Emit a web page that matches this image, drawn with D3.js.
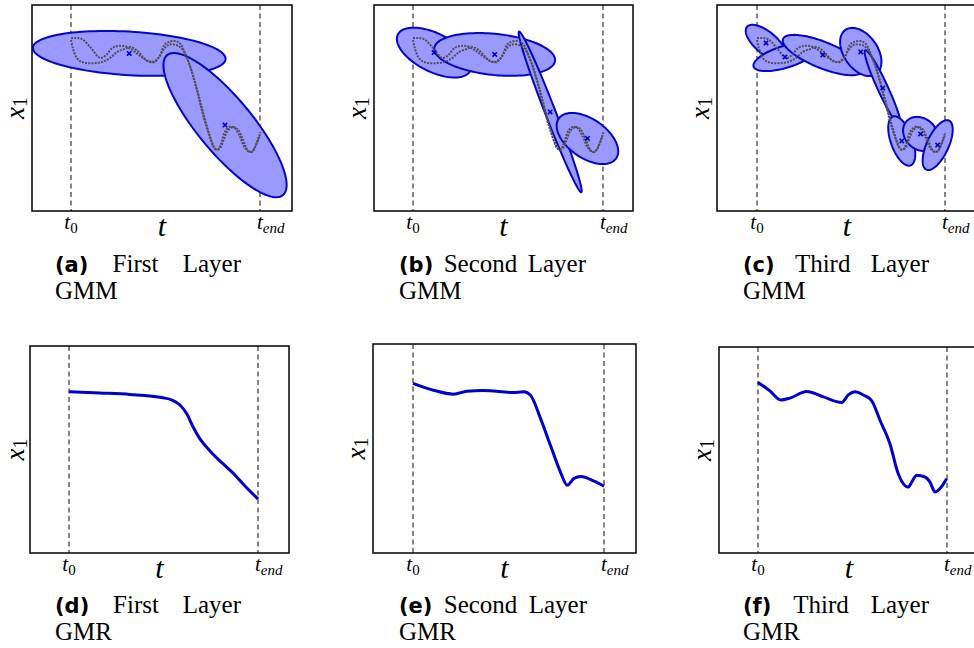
<!DOCTYPE html>
<html>
<head>
<meta charset="utf-8">
<script src="https://cdn.jsdelivr.net/npm/d3@7/dist/d3.min.js"></script>
<style>
  body { margin: 0; background: #fff; }
  svg { display: block; }
</style>
</head>
<body>
<svg id="chart" width="974" height="648"></svg>
<script>
// time is normalised: 0 = t0, 1 = tend ; x1 normalised to the plot height

// demonstrations [t, x1]
const demo1 = [[0,0.840],[0.027,0.840],[0.058,0.835],[0.106,0.791],[0.154,0.743],[0.186,0.757],
  [0.218,0.791],[0.249,0.801],[0.281,0.801],[0.324,0.782],[0.366,0.752],[0.409,0.728],[0.441,0.723],
  [0.472,0.757],[0.494,0.806],[0.515,0.820],[0.552,0.825],[0.579,0.811],[0.605,0.762],[0.640,0.675],
  [0.675,0.563],[0.707,0.451],[0.735,0.364],[0.757,0.306],[0.776,0.296],[0.795,0.330],[0.814,0.383],
  [0.839,0.408],[0.865,0.403],[0.892,0.364],[0.918,0.311],[0.945,0.286],[0.966,0.296],[0.982,0.330],
  [1.003,0.383]];
const demo2 = [[0,0.830],[0.011,0.786],[0.027,0.748],[0.048,0.728],[0.080,0.718],[0.122,0.718],
  [0.165,0.723],[0.207,0.743],[0.244,0.772],[0.281,0.786],[0.313,0.796],[0.345,0.782],[0.377,0.752],
  [0.403,0.728],[0.430,0.723],[0.462,0.743],[0.488,0.782],[0.515,0.806],[0.557,0.806],[0.588,0.786],
  [0.622,0.723],[0.660,0.607],[0.692,0.490],[0.722,0.393],[0.745,0.335],[0.766,0.301],[0.789,0.306],
  [0.808,0.345],[0.828,0.388],[0.855,0.408],[0.881,0.398],[0.908,0.350],[0.934,0.296],[0.955,0.286],
  [0.977,0.316],[0.998,0.364]];

// GMM components: [mean t, mean x1, sd t, sd x1, correlation]
const gmmFirst = [[0.308,0.765,0.510,0.109,-0.24],[0.815,0.417,0.326,0.350,-0.83]];
const gmmSecond = [[0.111,0.769,0.196,0.121,-0.55],[0.430,0.760,0.318,0.104,-0.26],
  [0.722,0.481,0.166,0.390,-0.984],[0.918,0.352,0.162,0.124,-0.5]];
const gmmThird = [[0.048,0.816,0.108,0.088,-0.67],[0.149,0.748,0.168,0.069,0.6],
  [0.350,0.757,0.213,0.098,-0.72],[0.552,0.772,0.110,0.117,-0.41],[0.669,0.597,0.096,0.183,-0.95],
  [0.770,0.340,0.072,0.120,-0.53],[0.870,0.374,0.093,0.083,-0.2],[0.961,0.320,0.080,0.121,0.62]];

// GMR regression outputs [t, x1]
const gmrFirst = [[0,0.779],[0.164,0.773],[0.323,0.766],[0.497,0.750],[0.545,0.739],[0.587,0.715],
  [0.624,0.671],[0.656,0.610],[0.693,0.551],[0.746,0.493],[0.810,0.435],[0.868,0.386],[0.931,0.324],[1,0.261]];
const gmrSecond = [[0,0.812],[0.107,0.779],[0.212,0.760],[0.282,0.774],[0.369,0.778],[0.527,0.768],
  [0.580,0.771],[0.615,0.755],[0.668,0.643],[0.720,0.514],[0.773,0.385],[0.808,0.324],[0.843,0.357],
  [0.878,0.366],[0.948,0.344],[1,0.320]];
const gmrThird = [[0,0.828],[0.063,0.787],[0.120,0.743],[0.169,0.752],[0.258,0.784],[0.346,0.758],
  [0.443,0.731],[0.478,0.768],[0.513,0.783],[0.557,0.767],[0.602,0.739],[0.646,0.643],[0.698,0.530],
  [0.742,0.385],[0.795,0.320],[0.813,0.344],[0.840,0.377],[0.884,0.369],[0.910,0.344],[0.937,0.296],
  [0.963,0.313],[0.998,0.361]];

const captionLetters = ['(a)','(b)','(c)','(d)','(e)','(f)'];
const captionTitles = ['First Layer','Second Layer','Third Layer','First Layer','Second Layer','Third Layer'];
const captionKinds = ['GMM','GMM','GMM','GMR','GMR','GMR'];
const tickTimes = [0, 1];

// layout of each sub-figure (pixels)
const panels = [
  {left:32,  top:5,   w:260, h:206, t0:71,  tend:260, gmm:gmmFirst,  cap:[55,241],  capY:272},
  {left:374, top:5,   w:259, h:206, t0:413, tend:603, gmm:gmmSecond, cap:[399,586], capY:272},
  {left:717, top:5,   w:260, h:206, t0:757, tend:945, gmm:gmmThird,  cap:[743,929], capY:272},
  {left:30,  top:346, w:259, h:207, t0:69,  tend:258, gmr:gmrFirst,  cap:[55,241],  capY:613},
  {left:373, top:344, w:263, h:209, t0:413, tend:604, gmr:gmrSecond, cap:[399,587], capY:613},
  {left:719, top:347, w:260, h:206, t0:758, tend:947, gmr:gmrThird,  cap:[743,929], capY:613}
];

const svg = d3.select('#chart');
const serif = '"Liberation Serif", "DejaVu Serif", serif';

panels.forEach((p, i) => {
  const x = d3.scaleLinear().domain([0, 1]).range([p.t0, p.tend]);
  const y = d3.scaleLinear().domain([0, 1]).range([p.top + p.h, p.top]);
  const g = svg.append('g');

  const clipId = 'clip' + i;
  g.append('clipPath').attr('id', clipId)
    .append('rect').attr('x', p.left).attr('y', p.top).attr('width', p.w).attr('height', p.h);
  const inner = g.append('g').attr('clip-path', `url(#${clipId})`);

  // t0 / tend markers
  inner.selectAll('line.vt').data(tickTimes).join('line')
    .attr('class', 'vt')
    .attr('x1', d => x(d)).attr('x2', d => x(d))
    .attr('y1', p.top).attr('y2', p.top + p.h)
    .attr('stroke', '#222').attr('stroke-width', 1.1)
    .attr('stroke-dasharray', '5,3.5');

  const line = d3.line().x(d => x(d[0])).y(d => y(d[1]));

  if (p.gmm) {
    const steps = d3.range(0, 2 * Math.PI, Math.PI / 60);
    const ellipse = c => steps.map(a => {
      const [mt, mx, st, sx, r] = c;
      return [mt + st * Math.cos(a), mx + sx * (r * Math.cos(a) + Math.sqrt(1 - r * r) * Math.sin(a))];
    });
    inner.selectAll('path.ell').data(p.gmm).join('path')
      .attr('class', 'ell')
      .attr('d', c => line.curve(d3.curveLinearClosed)(ellipse(c)))
      .attr('fill', '#9999ff')
      .attr('stroke', '#0505c8').attr('stroke-width', 2);

    const demoLine = d3.line().x(d => x(d[0])).y(d => y(d[1])).curve(d3.curveCatmullRom);
    inner.selectAll('path.demo').data([demo1, demo2]).join('path')
      .attr('class', 'demo')
      .attr('d', demoLine)
      .attr('fill', 'none')
      .attr('stroke', '#505050').attr('stroke-width', 2)
      .attr('stroke-dasharray', '2,1.2');

    // means
    const s = 2.2;
    inner.selectAll('path.mean').data(p.gmm).join('path')
      .attr('class', 'mean')
      .attr('d', c => {
        const cx = x(c[0]), cy = y(c[1]);
        return `M${cx - s},${cy - s}L${cx + s},${cy + s}M${cx - s},${cy + s}L${cx + s},${cy - s}`;
      })
      .attr('stroke', '#0000cc').attr('stroke-width', 1.6);
  }

  if (p.gmr) {
    inner.append('path')
      .datum(p.gmr)
      .attr('d', line.curve(d3.curveMonotoneX))
      .attr('fill', 'none')
      .attr('stroke', '#0000cc').attr('stroke-width', 3)
      .attr('stroke-linejoin', 'round');
  }

  // frame
  g.append('rect')
    .attr('x', p.left).attr('y', p.top).attr('width', p.w).attr('height', p.h)
    .attr('fill', 'none').attr('stroke', '#000').attr('stroke-width', 1.5);

  // tick labels t0 / tend
  const tl = g.selectAll('text.tick').data(tickTimes).join('text')
    .attr('class', 'tick')
    .attr('x', d => d === 0 ? x(d) : x(d) - 3).attr('y', p.top + p.h + 18)
    .attr('text-anchor', d => d === 0 ? 'middle' : 'start')
    .attr('font-family', serif).attr('font-size', 21).attr('font-style', 'italic');
  tl.append('tspan').text('t');
  tl.append('tspan')
    .attr('font-size', 15).attr('dy', 4)
    .attr('font-style', d => d === 0 ? 'normal' : 'italic')
    .text(d => d === 0 ? '0' : 'end');

  // axis labels
  g.append('text')
    .attr('x', p.left + p.w / 2).attr('y', p.top + p.h + 25)
    .attr('text-anchor', 'middle')
    .attr('font-family', serif).attr('font-size', 30).attr('font-style', 'italic')
    .text('t');

  const yl = g.append('text')
    .attr('transform', `translate(${Math.max(p.left - 8, 24)},${p.top + p.h / 2}) rotate(-90)`)
    .attr('text-anchor', 'middle')
    .attr('font-family', serif).attr('font-size', 27).attr('font-style', 'italic');
  yl.append('tspan').text('x');
  yl.append('tspan').attr('font-size', 20).attr('font-style', 'normal').attr('dy', 3).text('1');

  // caption, first line justified between cap[0] and cap[1]
  const words = [captionLetters[i]].concat(captionTitles[i].split(' '));
  const wt = words.map((w, k) => g.append('text')
    .attr('y', p.capY)
    .attr('font-family', k === 0 ? '"DejaVu Sans", sans-serif' : serif)
    .attr('font-weight', k === 0 ? 'bold' : 'normal')
    .attr('font-size', k === 0 ? 21 : 25)
    .text(w));
  const widths = wt.map(t => t.node().getComputedTextLength());
  const gap = (p.cap[1] - p.cap[0] - d3.sum(widths)) / (words.length - 1);
  let cx = p.cap[0];
  wt.forEach((t, k) => { t.attr('x', cx); cx += widths[k] + gap; });

  g.append('text')
    .attr('x', p.cap[0]).attr('y', p.capY + 27)
    .attr('font-family', serif).attr('font-size', 25)
    .text(captionKinds[i]);
});
</script>
</body>
</html>
